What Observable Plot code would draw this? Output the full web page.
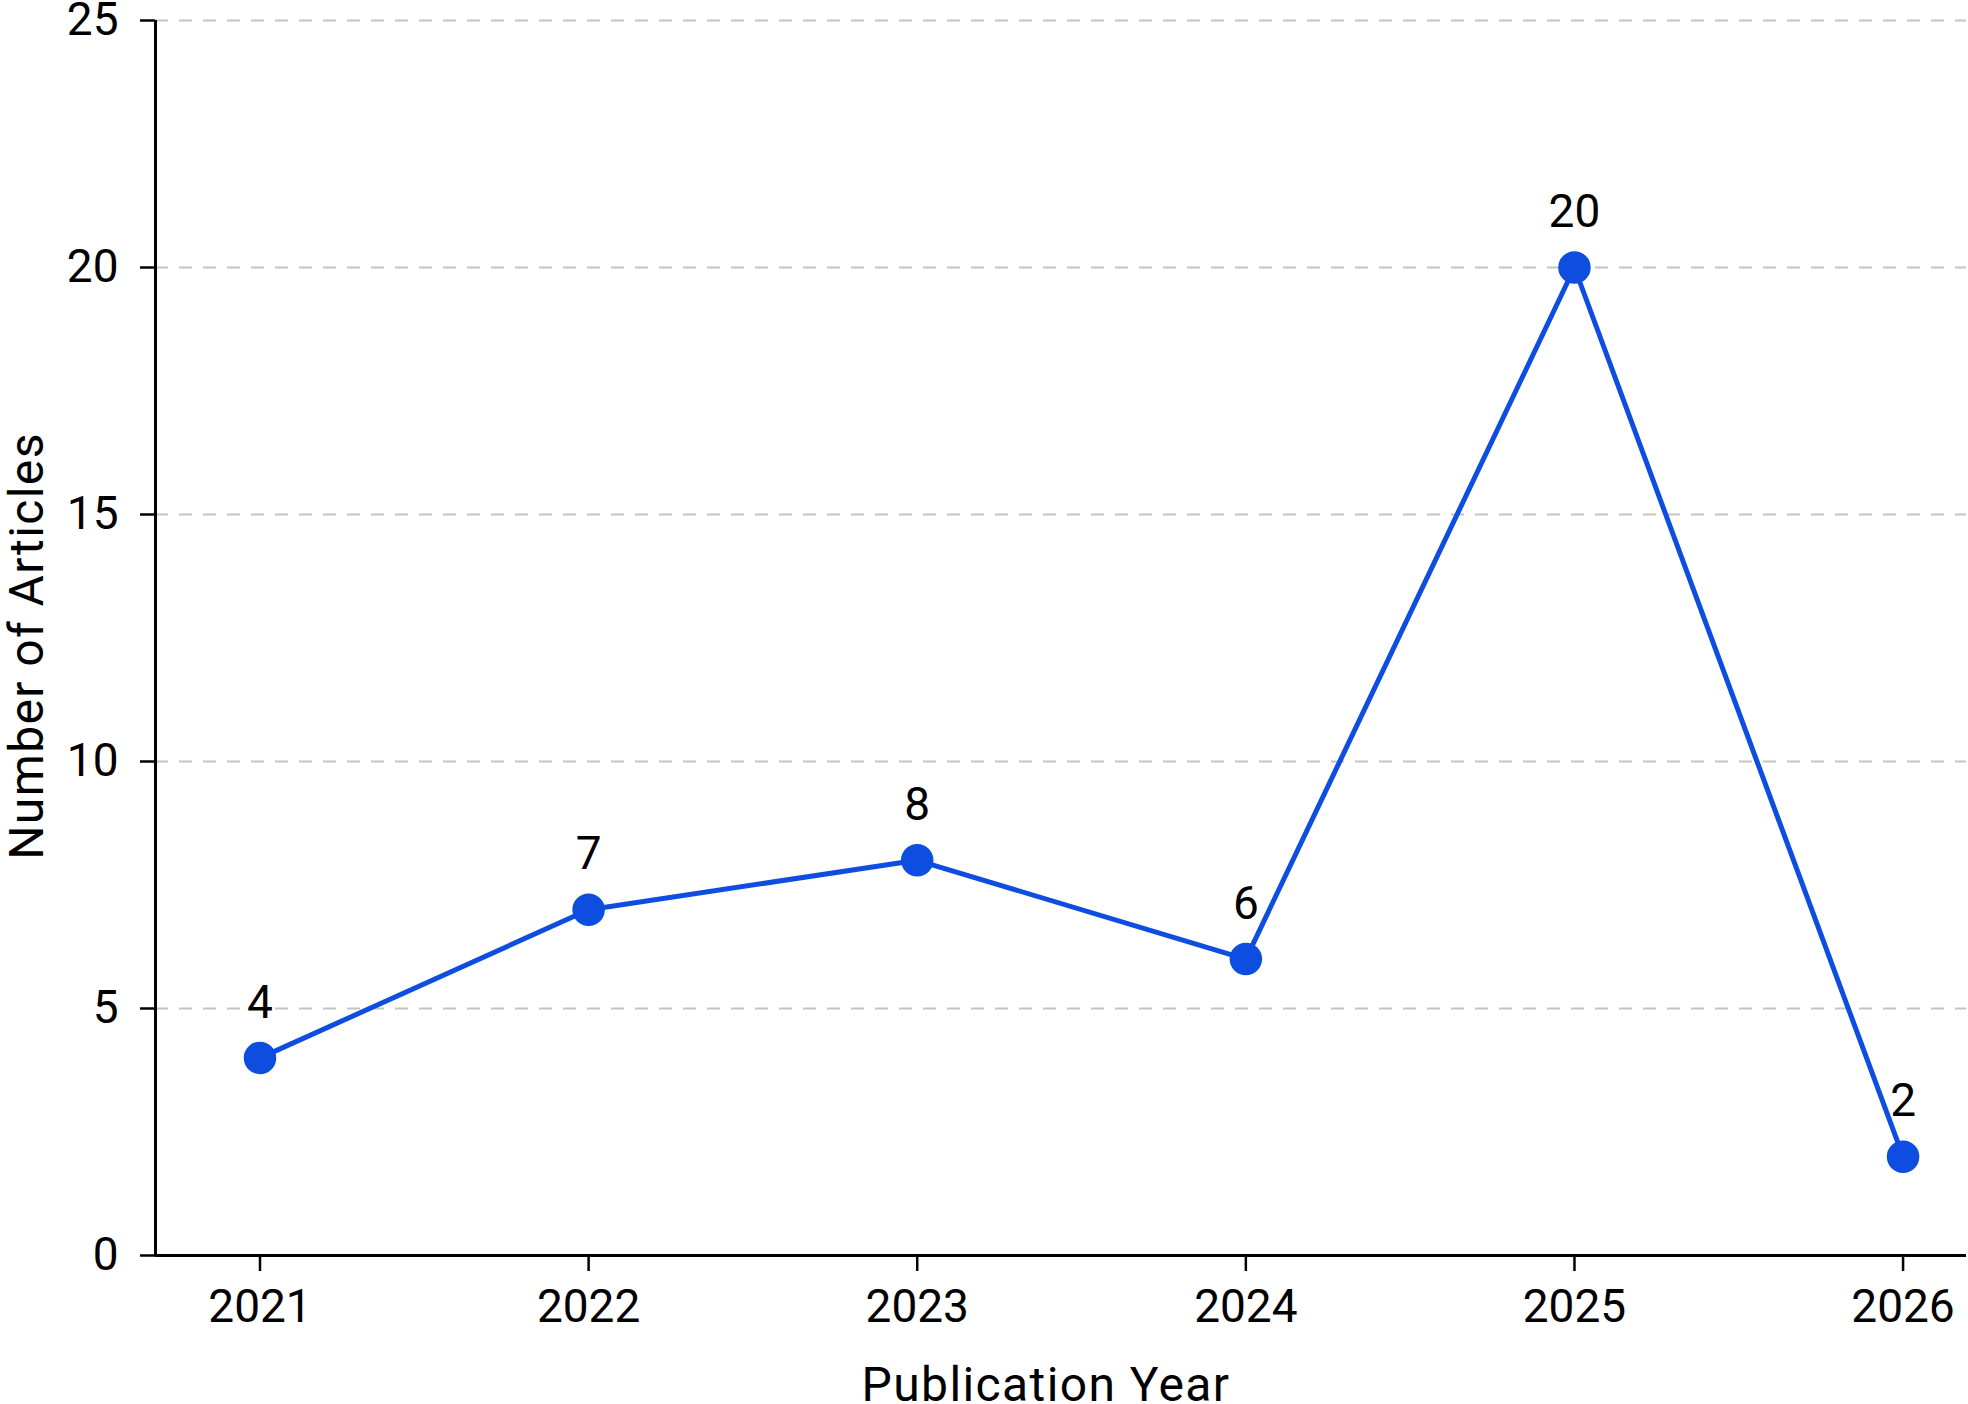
<!DOCTYPE html>
<html>
<head>
<meta charset="utf-8">
<script src="https://cdn.jsdelivr.net/npm/d3@7"></script>
<script src="https://cdn.jsdelivr.net/npm/@observablehq/plot@0.6"></script>
<style>
  html, body { margin: 0; padding: 0; background: #fff; }
  #chart svg { display: block; overflow: visible; }
</style>
</head>
<body>
<div id="chart"></div>
<script>
const years = [2021, 2022, 2023, 2024, 2025, 2026];
const articles = [4, 7, 8, 6, 20, 2];
const yTicks = [0, 5, 10, 15, 20, 25];
const xLabel = "Publication Year";
const yLabel = "Number of Articles";

const data = years.map((y, i) => ({year: y, n: articles[i]}));
const xDomain = [2020.682, 2026.193];
const blue = "#0d4ddf";
const font = "Roboto, 'Liberation Sans', sans-serif";

const chart = Plot.plot({
  width: 1968,
  height: 1404,
  marginLeft: 155,
  marginRight: 2,
  marginTop: 20,
  marginBottom: 149,
  style: {fontFamily: font, fontSize: "46px", color: "#000", background: "#fff"},
  x: {type: "linear", domain: xDomain},
  y: {domain: [0, 25]},
  marks: [
    Plot.gridY(yTicks, {stroke: "#c4c4c4", strokeOpacity: 1, strokeWidth: 2, strokeDasharray: "13,11"}),
    Plot.axisY(yTicks, {tickSize: 15, tickPadding: 22, strokeWidth: 2.5, fontSize: 46, label: null}),
    Plot.axisX(years, {tickSize: 16, tickPadding: 18, strokeWidth: 2.5, fontSize: 46, tickFormat: d => String(d), label: null}),
    Plot.ruleY([0], {stroke: "#000", strokeWidth: 3}),
    Plot.ruleX([xDomain[0]], {stroke: "#000", strokeWidth: 3}),
    Plot.line(data, {x: "year", y: "n", stroke: blue, strokeWidth: 5}),
    Plot.dot(data, {x: "year", y: "n", r: 15.5, fill: blue, stroke: blue, strokeWidth: 1.5}),
    Plot.text(data, {x: "year", y: "n", text: d => String(d.n), dy: -55, fontSize: 46, fill: "#000"}),
    Plot.text([xLabel], {frameAnchor: "bottom", dx: -15, dy: 130, textAnchor: "middle", lineAnchor: "middle", fontSize: 48, fill: "#000"}),
    Plot.text([yLabel], {frameAnchor: "left", dx: -128, dy: 8, rotate: -90, textAnchor: "middle", lineAnchor: "middle", fontSize: 48, fill: "#000"})
  ]
});
d3.select(chart).selectAll("text").filter(function() {
  const t = this.textContent;
  return t === xLabel || t === yLabel;
}).style("letter-spacing", "1.4px");
document.getElementById("chart").appendChild(chart);
</script>
</body>
</html>
